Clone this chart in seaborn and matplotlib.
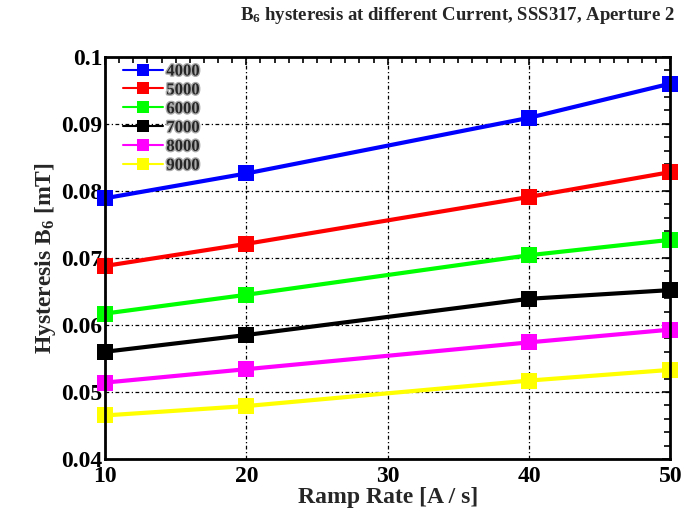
import matplotlib
matplotlib.use("Agg")
import matplotlib.pyplot as plt
import matplotlib.patheffects as pe
from matplotlib.ticker import MultipleLocator
import seaborn as sns
import pandas as pd

ramp_rates = [10, 20, 40, 50]
currents = ["4000", "5000", "6000", "7000", "8000", "9000"]
b6_4000 = [0.0789, 0.0826, 0.0909, 0.0960]
b6_5000 = [0.0688, 0.0721, 0.0791, 0.0828]
b6_6000 = [0.0617, 0.0645, 0.0704, 0.0727]
b6_7000 = [0.0560, 0.0585, 0.0639, 0.0652]
b6_8000 = [0.0514, 0.0534, 0.0574, 0.0593]
b6_9000 = [0.0465, 0.0479, 0.0517, 0.0533]
colors = ["#0000ff", "#ff0000", "#00ff00", "#000000", "#ff00ff", "#ffff00"]

series = [b6_4000, b6_5000, b6_6000, b6_7000, b6_8000, b6_9000]
rows = []
for cur, vals in zip(currents, series):
    for r, v in zip(ramp_rates, vals):
        rows.append({"Ramp": r, "B6": v, "Current": cur})
df = pd.DataFrame(rows)

sns.set_style("white")
plt.rcParams["font.family"] = ["Liberation Serif", "DejaVu Serif"]
plt.rcParams["font.weight"] = "bold"
plt.rcParams["mathtext.fontset"] = "custom"
plt.rcParams["mathtext.rm"] = "Liberation Serif:bold"
plt.rcParams["mathtext.it"] = "Liberation Serif:bold"
plt.rcParams["mathtext.bf"] = "Liberation Serif:bold"
plt.rcParams["mathtext.default"] = "rm"

fig = plt.figure(figsize=(6.91, 5.12), dpi=100)
ax = fig.add_axes([0.152, 0.1035, 0.818, 0.7855])

sns.lineplot(data=df, x="Ramp", y="B6", hue="Current", hue_order=currents,
             palette=colors, marker="s", markersize=11, linewidth=3,
             markeredgewidth=0, dashes=False, ax=ax)
for ln in ax.lines:
    ln.set_clip_on(False)

ax.set_xlim(10, 50)
ax.set_ylim(0.04, 0.1)
ax.xaxis.set_major_locator(MultipleLocator(10))
ax.xaxis.set_minor_locator(MultipleLocator(1))
ax.yaxis.set_minor_locator(MultipleLocator(0.002))
ax.set_yticks([0.04, 0.05, 0.06, 0.07, 0.08, 0.09, 0.1])
ax.set_yticklabels(["0.04", "0.05", "0.06", "0.07", "0.08", "0.09", "0.1"])
ax.tick_params(which="both", direction="in", top=True, right=True,
               labelsize=17, colors="black")
ax.tick_params(axis="x", pad=5)
ax.tick_params(axis="y", pad=2)
ax.tick_params(which="major", length=6, width=1.2)
ax.tick_params(which="minor", length=4, width=1.2)
for lab in ax.get_xticklabels() + ax.get_yticklabels():
    lab.set_fontweight("bold")
ax.grid(True, which="major", color="black", linestyle=(0, (3, 2, 1, 2)), linewidth=0.9)
for s in ax.spines.values():
    s.set_color("black")
    s.set_linewidth(2)

ax.set_xlabel("Ramp Rate [A / s]", fontsize=17, fontweight="bold", labelpad=0)
ax.set_ylabel("Hysteresis B$_6$ [mT]", fontsize=17, fontweight="bold", labelpad=2)
fig.suptitle("B$_6$ hysteresis at different Current, SSS317, Aperture 2",
             x=0.662, y=0.99, fontsize=13.5, fontweight="bold")

leg = ax.legend(loc="upper left", frameon=False, handlelength=2.4,
                borderaxespad=0.2, labelspacing=0.17, handletextpad=0.2,
                borderpad=0.2, bbox_to_anchor=(0.02, 1.0),
                prop={"weight": "bold", "size": 12})
for h in leg.legend_handles:
    h.set_linewidth(1.5)
    h.set_markersize(8)
for t in leg.get_texts():
    t.set_path_effects([pe.withStroke(linewidth=2, foreground="#aaaaaa")])

fig.savefig("out.png", dpi=100)
